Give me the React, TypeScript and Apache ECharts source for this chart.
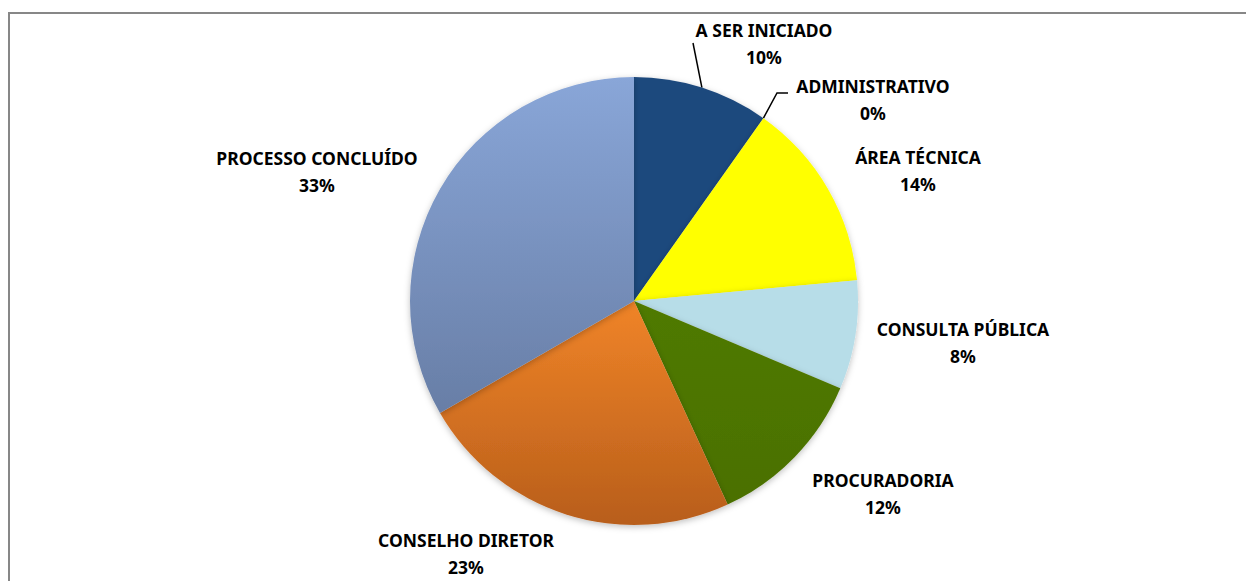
import React, { useEffect, useRef } from "react";
import * as echarts from "echarts";

const categories = [
  "A SER INICIADO",
  "ADMINISTRATIVO",
  "ÁREA TÉCNICA",
  "CONSULTA PÚBLICA",
  "PROCURADORIA",
  "CONSELHO DIRETOR",
  "PROCESSO CONCLUÍDO",
];
const values = [5, 0, 7, 4, 6, 12, 17];

const colorsTop = ["#1F497D", "#1F497D", "#FFFF00", "#B7DDE8", "#4F7A00", "#F08428", "#89A6D8"];
const colorsBottom = ["#1F497D", "#1F497D", "#FFFF00", "#B7DDE8", "#4B7000", "#B85E1B", "#687EA6"];

// layout only
const CX = 634;
const CY = 301;
const R = 224;
const labelCenters: [number, number][] = [
  [764, 43],
  [873, 99],
  [918, 170],
  [963, 342],
  [883, 493],
  [466, 553],
  [317, 171],
];
// leader line routes (relative to label centre) for the labels that have one
const lineEnds: Record<number, [number, number][]> = {
  0: [[-71, 0]],
  1: [[-96, -6], [-85, -6]],
};

export default function App() {
  const ref = useRef<HTMLDivElement>(null);
  useEffect(() => {
    if (!ref.current) return;
    const chart = echarts.init(ref.current, undefined, { renderer: "svg" });
    const total = values.reduce((a, b) => a + b, 0);
    const midAngles: number[] = [];
    let acc = 0;
    values.forEach((v) => {
      midAngles.push(((acc + v / 2) / total) * Math.PI * 2);
      acc += v;
    });
    chart.setOption({
      animation: false,
      backgroundColor: "#ffffff",
      graphic: [
        {
          type: "rect",
          shape: { x: 9, y: 13, width: 1400, height: 800 },
          style: { fill: "none", stroke: "#878787", lineWidth: 2 },
          silent: true,
        },
      ],
      series: [
        {
          type: "pie",
          center: [CX, CY],
          radius: R,
          startAngle: 90,
          clockwise: true,
          percentPrecision: 0,
          avoidLabelOverlap: false,
          data: categories.map((name, i) => ({
            name,
            value: values[i],
            itemStyle: {
              color: new echarts.graphic.LinearGradient(0, 0, 0, 1, [
                { offset: 0, color: colorsTop[i] },
                { offset: 1, color: colorsBottom[i] },
              ]),
            },
            labelLine: { show: !!lineEnds[i] },
          })),
          itemStyle: {
            borderWidth: 0,
            shadowBlur: 6,
            shadowOffsetY: 2,
            shadowColor: "rgba(0,0,0,0.25)",
          },
          label: {
            show: true,
            position: "outside",
            formatter: "{b}\n{d}%",
            fontFamily: "Noto Sans",
            fontWeight: "bold",
            fontSize: 17.5,
            lineHeight: 27,
            color: "#000000",
            align: "center",
          },
          labelLine: {
            show: true,
            lineStyle: { color: "#000000", width: 1.5 },
          },
          labelLayout: (p: any) => {
            const i = p.dataIndex;
            const c = labelCenters[i];
            const res: any = { x: c[0], y: c[1], align: "center", verticalAlign: "middle" };
            if (lineEnds[i]) {
              const a = midAngles[i];
              const start = [CX + R * Math.sin(a), CY - R * Math.cos(a)];
              res.labelLinePoints = [start, ...lineEnds[i].map(([dx, dy]) => [c[0] + dx, c[1] + dy])];
            }
            return res;
          },
        },
      ],
    });
    return () => chart.dispose();
  }, []);
  return (
    <div
      ref={ref}
      style={{ position: "fixed", left: 0, top: 0, width: 1246, height: 581 }}
    />
  );
}
